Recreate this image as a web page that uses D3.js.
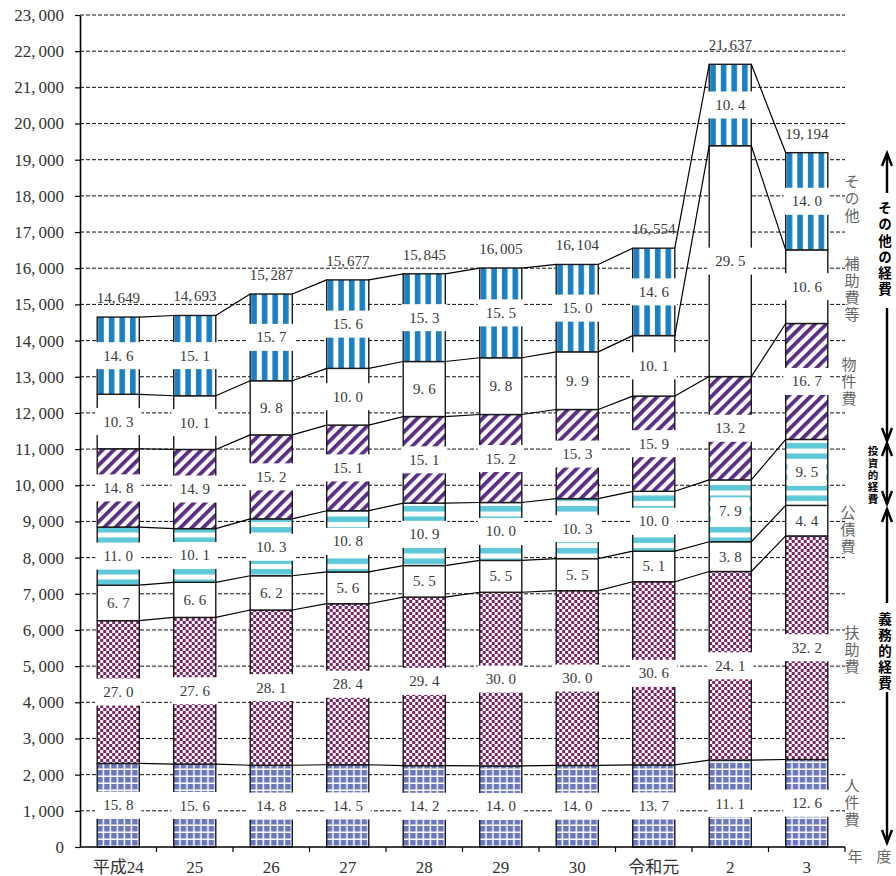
<!DOCTYPE html>
<html><head><meta charset="utf-8">
<script src="https://cdn.jsdelivr.net/npm/d3@7"></script>
<style>
body{margin:0;background:#fff;}
svg{display:block;}
</style></head><body>
<svg id="chart" width="896" height="876"></svg>
<script>
// 年度
const years = ["平成24","25","26","27","28","29","30","令和元","2","3"];
// 歳出総額（億円）
const totals = [14649,14693,15287,15677,15845,16005,16104,16554,21637,19194];
// 性質別の区分（下から順に積み上げ）
const categories = ["人件費","扶助費","公債費","投資的経費","物件費","補助費等","その他"];
// 構成比（％）
const jinkenhi = [15.8,15.6,14.8,14.5,14.2,14.0,14.0,13.7,11.1,12.6];
const fujohi   = [27.0,27.6,28.1,28.4,29.4,30.0,30.0,30.6,24.1,32.2];
const kosaihi  = [6.7,6.6,6.2,5.6,5.5,5.5,5.5,5.1,3.8,4.4];
const toshi    = [11.0,10.1,10.3,10.8,10.9,10.0,10.3,10.0,7.9,9.5];
const bukkenhi = [14.8,14.9,15.2,15.1,15.1,15.2,15.3,15.9,13.2,16.7];
const hojohi   = [10.3,10.1,9.8,10.0,9.6,9.8,9.9,10.1,29.5,10.6];
const sonota   = [14.6,15.1,15.7,15.6,15.3,15.5,15.0,14.6,10.4,14.0];
// 軸目盛
const yTicks = d3.range(0, 23001, 1000);

const series = [jinkenhi, fujohi, kosaihi, toshi, bukkenhi, hojohi, sonota];

const plotLeft = 80, plotRight = 845, plotTop = 15, plotBottom = 847;
const serif = '"Liberation Serif","Noto Sans CJK JP",serif';
const cjk = '"Noto Sans CJK JP",sans-serif';

const svg = d3.select("#chart");

const x = d3.scaleBand().domain(years).range([plotLeft, plotRight])
  .paddingInner(0.45).paddingOuter(0.225);
const y = d3.scaleLinear().domain([0, 23000]).range([plotBottom, plotTop]);
const step = x.step(), bw = x.bandwidth();

// 金額の表（構成比 × 総額）
const table = years.map((yr, i) => {
  const sum = d3.sum(series, s => s[i]);
  const row = {year: yr};
  categories.forEach((c, k) => { row[c] = totals[i] * series[k][i] / sum; });
  return row;
});
const stacked = d3.stack().keys(categories)(table);

// ---- 模様 ----
const defs = svg.append("defs");
function pat(id, w, h, build, transform) {
  const p = defs.append("pattern").attr("id", id)
    .attr("patternUnits", "userSpaceOnUse").attr("width", w).attr("height", h);
  if (transform) p.attr("patternTransform", transform);
  build(p);
}
pat("pJinken", 7, 7, p => {
  p.append("rect").attr("width", 7).attr("height", 7).attr("fill", "#6b77bf");
  p.append("rect").attr("x", 5.5).attr("width", 1.5).attr("height", 7).attr("fill", "#fff");
  p.append("rect").attr("y", 5.5).attr("width", 7).attr("height", 1.5).attr("fill", "#fff");
});
pat("pFujo", 6, 6, p => {
  p.append("rect").attr("width", 6).attr("height", 6).attr("fill", "#fff");
  p.append("rect").attr("width", 3).attr("height", 3).attr("fill", "#7a2466");
  p.append("rect").attr("x", 3).attr("y", 3).attr("width", 3).attr("height", 3).attr("fill", "#7a2466");
});
pat("pToshi", 10, 10.5, p => {
  p.append("rect").attr("width", 10).attr("height", 10.5).attr("fill", "#fff");
  p.append("rect").attr("y", 2).attr("width", 10).attr("height", 5.5).attr("fill", "#5dc8d7");
});
pat("pBukken", 8, 8, p => {
  p.append("rect").attr("width", 8).attr("height", 8).attr("fill", "#fff");
  p.append("rect").attr("width", 3.8).attr("height", 8).attr("fill", "#5b2c83");
}, "rotate(45)");
pat("pSonota", 10.6, 10, p => {
  p.append("rect").attr("width", 10.6).attr("height", 10).attr("fill", "#fff");
  p.append("rect").attr("x", 1).attr("width", 5.6).attr("height", 10).attr("fill", "#1b7fc1");
});
const fills = ["url(#pJinken)", "url(#pFujo)", "#fff", "url(#pToshi)", "url(#pBukken)", "#fff", "url(#pSonota)"];

// ---- 目盛線 ----
svg.append("g").selectAll("line").data(yTicks.filter(d => d > 0)).join("line")
  .attr("x1", plotLeft).attr("x2", plotRight)
  .attr("y1", d => y(d)).attr("y2", d => y(d))
  .attr("stroke", "#111").attr("stroke-width", 1).attr("stroke-dasharray", "4,2");

// ---- 棒 ----
const cols = svg.append("g").selectAll("g").data(years).join("g")
  .attr("transform", d => `translate(${x(d)},0)`);
cols.each(function(yr, i) {
  const g = d3.select(this);
  stacked.forEach((s, k) => {
    const seg = s[i];
    g.append("rect")
      .attr("x", 0).attr("width", bw)
      .attr("y", y(seg[1])).attr("height", y(seg[0]) - y(seg[1]))
      .attr("fill", fills[k])
      .attr("stroke", "#1a1a1a").attr("stroke-width", 1.4);
  });
});

// ---- 棒の間の連結線 ----
const links = [];
stacked.forEach(s => {
  for (let i = 0; i < years.length - 1; i++) {
    links.push({x1: x(years[i]) + bw, y1: y(s[i][1]), x2: x(years[i + 1]), y2: y(s[i + 1][1])});
  }
});
svg.append("g").selectAll("line").data(links).join("line")
  .attr("x1", d => d.x1).attr("y1", d => d.y1).attr("x2", d => d.x2).attr("y2", d => d.y2)
  .attr("stroke", "#000").attr("stroke-width", 1.2);

// ---- 構成比ラベル ----
function splitAt(str, ch) {
  const i = str.indexOf(ch);
  return i < 0 ? [str, ""] : [str.slice(0, i + 1), str.slice(i + 1)];
}
const pctG = svg.append("g");
cols.each(function(yr, i) {
  stacked.forEach((s, k) => {
    const seg = s[i];
    const cx = x(yr) + bw / 2, cy = y((seg[0] + seg[1]) / 2);
    const g = pctG.append("g");
    const [a, b] = splitAt(d3.format(".1f")(series[k][i]), ".");
    const t = g.append("text").attr("x", cx).attr("y", cy)
      .attr("text-anchor", "middle").attr("dominant-baseline", "central")
      .attr("font-family", serif).attr("font-size", 15).attr("fill", "#3a3a3a");
    t.append("tspan").text(a);
    t.append("tspan").attr("dx", 4).text(b);
    const bb = t.node().getBBox();
    g.insert("rect", "text")
      .attr("x", cx - (bb.width + 16) / 2).attr("width", bb.width + 16)
      .attr("y", cy - 13.5).attr("height", 27).attr("fill", "#fff");
  });
});

// ---- 総額ラベル ----
svg.append("g").selectAll("text").data(years).join("text")
  .attr("x", d => x(d) + bw / 2)
  .attr("y", (d, i) => y(totals[i]) - 14)
  .attr("text-anchor", "middle")
  .attr("font-family", serif).attr("font-size", 15).attr("fill", "#3a3a3a")
  .each(function(d, i) {
    const [a, b] = splitAt(d3.format(",")(totals[i]), ",");
    d3.select(this).append("tspan").text(a);
    d3.select(this).append("tspan").attr("dx", 2).text(b);
  });

// ---- 縦軸 ----
const yAxis = d3.axisLeft(y).tickValues(yTicks).tickSize(5).tickSizeOuter(0).tickPadding(11);
const yg = svg.append("g").attr("transform", `translate(${plotLeft},0)`).call(yAxis);
yg.select(".domain").attr("stroke", "#000").attr("stroke-width", 1.6);
yg.selectAll(".tick line").attr("stroke", "#000").attr("stroke-width", 1.2);
yg.selectAll(".tick text")
  .attr("font-family", serif).attr("font-size", 17).attr("fill", "#333")
  .each(function(d) {
    const t = d3.select(this).text(null);
    const [a, b] = splitAt(d3.format(",")(d), ",");
    t.append("tspan").text(a);
    if (b) t.append("tspan").attr("dx", 3).text(b);
  });

// ---- 横軸 ----
const xg = svg.append("g");
xg.append("line").attr("x1", plotLeft).attr("x2", plotRight)
  .attr("y1", plotBottom).attr("y2", plotBottom)
  .attr("stroke", "#000").attr("stroke-width", 1.6);
const bounds = years.map((d, i) => plotLeft + step * (i + 1));
xg.selectAll(".xt").data(bounds).join("line").attr("class", "xt")
  .attr("x1", d => d).attr("x2", d => d).attr("y1", plotBottom).attr("y2", plotBottom + 5)
  .attr("stroke", "#000").attr("stroke-width", 1.2);
xg.selectAll("text").data(years).join("text")
  .attr("x", d => x(d) + bw / 2).attr("y", 873)
  .attr("text-anchor", "middle")
  .attr("font-family", serif).attr("font-size", 17).attr("fill", "#333")
  .text(d => d);

// ---- 縦書きラベル（一文字目の中心 y0、文字送り gap） ----
function vtext(str, cx, y0, gap, size, opts = {}) {
  return svg.append("text")
    .style("writing-mode", "vertical-rl")
    .attr("x", cx).attr("y", y0 - size / 2)
    .attr("text-anchor", "start")
    .attr("letter-spacing", gap - size)
    .attr("font-family", opts.family || cjk).attr("font-size", size)
    .attr("font-weight", opts.weight || 400).attr("fill", opts.fill || "#555")
    .text(str);
}
const catLabels = [
  {text: "その他", x: 852, y: 181},
  {text: "補助費等", x: 852, y: 263},
  {text: "物件費", x: 849, y: 364},
  {text: "公債費", x: 848, y: 512},
  {text: "扶助費", x: 852, y: 632},
  {text: "人件費", x: 852, y: 785}
];
catLabels.forEach(l => vtext(l.text, l.x, l.y, 17, 15, {fill: "#666"}));

svg.append("text").attr("x", 855).attr("y", 855)
  .attr("text-anchor", "middle").attr("dominant-baseline", "central")
  .attr("font-family", cjk).attr("font-size", 15).attr("fill", "#666").text("年");
svg.append("text").attr("x", 884).attr("y", 855)
  .attr("text-anchor", "middle").attr("dominant-baseline", "central")
  .attr("font-family", cjk).attr("font-size", 15).attr("fill", "#666").text("度");

// ---- 区分の矢印 ----
const ax = 887;
const arrowG = svg.append("g").attr("stroke", "#000").attr("fill", "none")
  .attr("stroke-width", 2.4).attr("stroke-linecap", "butt");
function shaft(y1, y2) { arrowG.append("line").attr("x1", ax).attr("x2", ax).attr("y1", y1).attr("y2", y2); }
function headUp(yTip) { arrowG.append("path").attr("d", `M${ax - 5},${yTip + 13}L${ax},${yTip}L${ax + 5},${yTip + 13}`); }
function headDown(yTip) { arrowG.append("path").attr("d", `M${ax - 5},${yTip - 13}L${ax},${yTip}L${ax + 5},${yTip - 13}`); }

// その他の経費
headUp(153); shaft(153, 193);
vtext("その他の経費", 885, 208, 16.2, 13.5, {weight: 700, fill: "#000"});
shaft(308, 441); headDown(441);
// 投資的経費
headUp(443); shaft(443, 504); headDown(504);
vtext("投資的経費", 873, 451, 12, 10.5, {weight: 700, fill: "#000"});
// 義務的経費
headUp(509); shaft(509, 603);
vtext("義務的経費", 885, 619, 16, 13.5, {weight: 700, fill: "#000"});
shaft(692, 843); headDown(843);
</script>
</body></html>
